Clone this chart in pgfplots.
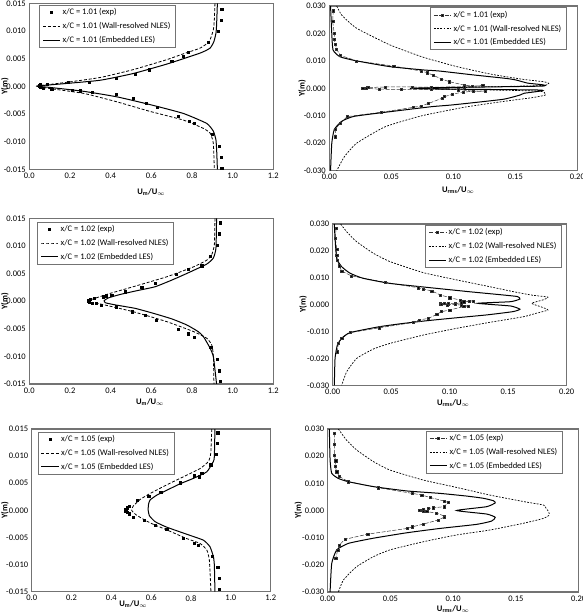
\documentclass[border=0pt]{standalone}
\usepackage{fontspec}
\setmainfont{Carlito}
\usepackage{pgfplots}
\pgfplotsset{compat=1.18}
\pgfplotsset{
  base/.style={
    scale only axis, anchor=south west,
    axis line style={draw=black!55, line width=1.2pt},
    tick style={draw=none},
    scaled ticks=false,
    ticklabel style={font=\fontsize{8.5}{10}\selectfont},
    label style={font=\bfseries\fontsize{8.5}{10}\selectfont},
    legend style={draw=black!55, line width=0.6pt, font=\fontsize{8.5}{10}\selectfont,
      row sep=2pt, inner xsep=3pt, inner ysep=1.5pt, cells={anchor=west}},
    legend cell align=left,
  },
  lp/.style={base, xmin=0, xmax=1.2, ymin=-0.015, ymax=0.015,
    xtick={0,0.2,0.4,0.6,0.8,1.0,1.2},
    ytick={-0.015,-0.010,-0.005,0,0.005,0.010,0.015},
    xticklabel style={/pgf/number format/.cd, fixed, fixed zerofill, precision=1, assume math mode=true},
    yticklabel style={/pgf/number format/.cd, fixed, fixed zerofill, precision=3, assume math mode=true},
    xlabel={U\textsubscript{m}/U\textsubscript{$\infty$}}, ylabel={Y(m)}},
  rp/.style={base, xmin=0, xmax=0.2, ymin=-0.03, ymax=0.03,
    xtick={0,0.05,0.10,0.15,0.20},
    ytick={-0.030,-0.020,-0.010,0,0.010,0.020,0.030},
    xticklabel style={/pgf/number format/.cd, fixed, fixed zerofill, precision=2, assume math mode=true},
    yticklabel style={/pgf/number format/.cd, fixed, fixed zerofill, precision=3, assume math mode=true},
    xlabel={U\textsubscript{rms}/U\textsubscript{$\infty$}}, ylabel={Y(m)}},
  expL/.style={only marks, mark=square*, mark size=1.1pt, black},
  expR/.style={black!80, line width=0.5pt, dash pattern=on 4pt off 1.5pt, mark=square*, mark size=1.1pt, mark options={solid, fill=black}},
  nlesL/.style={black, line width=0.8pt, dash pattern=on 3pt off 1.8pt, smooth, tension=0.3, mark=none},
  nlesR/.style={black, line width=0.7pt, dash pattern=on 1.8pt off 1.4pt, smooth, tension=0.3, mark=none},
  les/.style={black, line width=1pt, smooth, tension=0.3, mark=none},
}
\begin{document}
\begin{tikzpicture}[x=1pt,y=1pt]
\path[use as bounding box] (0,0) rectangle (583,616);

% Panel 1
\begin{axis}[lp, at={(29.3pt,446.7pt)}, width=244pt, height=166pt,
  xlabel style={at={(axis description cs:0.5,-0.137)}, anchor=center},
  ylabel style={at={(axis description cs:-0.1,0.5)}, anchor=center},
  legend style={at={(rel axis cs:0.041,0.99)}, anchor=north west}]
\addplot[expL] coordinates {(0.946,0.0140)(0.943,0.0120)(0.930,0.0100)(0.880,0.0080)(0.782,0.0061)(0.755,0.0055)(0.700,0.0046)(0.589,0.0030)(0.520,0.0022)(0.426,0.0014)(0.295,0.0008)(0.190,0.0007)(0.089,0.0004)(0.055,0.0003)(0.050,0.0001)(0.048,0.0000)(0.052,-0.0001)(0.055,-0.0002)(0.070,-0.0004)(0.110,-0.0005)(0.210,-0.0007)(0.250,-0.0008)(0.310,-0.0010)(0.426,-0.0014)(0.510,-0.0022)(0.574,-0.0030)(0.630,-0.0038)(0.733,-0.0054)(0.787,-0.0063)(0.810,-0.0067)(0.900,-0.0087)(0.934,-0.0108)(0.943,-0.0128)(0.946,-0.0148)};
\addlegendentry{x/C = 1.01 (exp)}
\addplot[nlesL] coordinates {(0.913,0.0150)(0.910,0.0120)(0.905,0.0102)(0.885,0.0081)(0.840,0.0069)(0.760,0.0059)(0.675,0.0048)(0.510,0.0030)(0.350,0.0016)(0.180,0.0007)(0.050,0.0001)(0.036,0.0000)(0.100,-0.0004)(0.270,-0.0013)(0.430,-0.0028)(0.590,-0.0045)(0.757,-0.0061)(0.856,-0.0076)(0.890,-0.0085)(0.905,-0.0103)(0.910,-0.0150)};
\addlegendentry{x/C = 1.01 (Wall-resolved NLES)}
\addplot[les] coordinates {(0.925,0.0150)(0.921,0.0110)(0.918,0.0096)(0.908,0.0081)(0.889,0.0069)(0.840,0.0060)(0.675,0.0040)(0.510,0.0023)(0.350,0.0011)(0.180,0.0005)(0.050,0.0001)(0.040,0.0000)(0.100,-0.0002)(0.266,-0.0009)(0.430,-0.0019)(0.593,-0.0033)(0.757,-0.0049)(0.872,-0.0067)(0.905,-0.0081)(0.918,-0.0097)(0.922,-0.0120)(0.925,-0.0150)};
\addlegendentry{x/C = 1.01 (Embedded LES)}
\end{axis}

% Panel 2
\begin{axis}[rp, at={(329.3pt,445.3pt)}, width=248pt, height=164.7pt,
  xlabel style={at={(axis description cs:0.52,-0.117)}, anchor=center},
  ylabel style={at={(axis description cs:-0.11,0.5)}, anchor=center},
  legend style={at={(rel axis cs:0.957,0.992)}, anchor=north east}]
\addplot[expR] coordinates {(0.0032,0.0283)(0.0027,0.0243)(0.0040,0.0200)(0.0040,0.0179)(0.0048,0.0162)(0.0059,0.0142)(0.0090,0.0120)(0.0220,0.0100)(0.0520,0.0081)(0.0740,0.0063)(0.0790,0.0057)(0.0840,0.0047)(0.0906,0.0034)(0.0970,0.0024)(0.1086,0.0012)(0.1156,0.0008)(0.1237,0.0010)(0.1086,0.0006)(0.0820,0.0004)(0.0670,0.0005)(0.0450,0.0005)(0.0310,0.0003)(0.0270,0.0001)(0.0300,0.0000)(0.0400,-0.0003)(0.0580,-0.0004)(0.0820,-0.0004)(0.1040,-0.0005)(0.1160,-0.0010)(0.1260,-0.0010)(0.1080,-0.0013)(0.0990,-0.0022)(0.0930,-0.0030)(0.0910,-0.0036)(0.0800,-0.0055)(0.0740,-0.0064)(0.0680,-0.0069)(0.0420,-0.0087)(0.0145,-0.0103)(0.0086,-0.0128)(0.0050,-0.0148)(0.0046,-0.0176)};
\addlegendentry{x/C = 1.01 (exp)}
\addplot[nlesR] coordinates {(0.006,0.030)(0.010,0.0267)(0.022,0.0219)(0.049,0.0158)(0.076,0.0113)(0.103,0.0079)(0.130,0.0052)(0.156,0.0033)(0.173,0.0024)(0.177,0.0018)(0.170,0.0010)(0.090,0.0002)(0.070,0.0000)(0.090,-0.0002)(0.168,-0.0010)(0.174,-0.0020)(0.174,-0.0025)(0.165,-0.0033)(0.140,-0.0048)(0.110,-0.0068)(0.0745,-0.0100)(0.045,-0.0140)(0.022,-0.0200)(0.012,-0.0250)(0.006,-0.030)};
\addlegendentry{x/C = 1.01 (Wall-resolved NLES)}
\addplot[les] coordinates {(0.001,0.030)(0.002,0.020)(0.003,0.014)(0.0086,0.0115)(0.022,0.0100)(0.049,0.0079)(0.076,0.0067)(0.089,0.0063)(0.116,0.0049)(0.143,0.0036)(0.151,0.0030)(0.160,0.0019)(0.172,0.0013)(0.170,0.0008)(0.080,0.0002)(0.065,0.0000)(0.080,-0.0002)(0.168,-0.0006)(0.170,-0.0010)(0.157,-0.0018)(0.154,-0.0024)(0.140,-0.0040)(0.100,-0.0060)(0.082,-0.0067)(0.049,-0.0085)(0.020,-0.0102)(0.010,-0.0120)(0.004,-0.0150)(0.002,-0.0200)(0.001,-0.030)};
\addlegendentry{x/C = 1.01 (Embedded LES)}
\end{axis}

% Panel 3
\begin{axis}[lp, at={(29.3pt,232pt)}, width=244pt, height=165.7pt,
  xlabel style={at={(axis description cs:0.495,-0.109)}, anchor=center},
  ylabel style={at={(axis description cs:-0.1,0.5)}, anchor=center},
  legend style={at={(rel axis cs:0.033,0.98)}, anchor=north west}]
\addplot[expL] coordinates {(0.938,0.0142)(0.934,0.0122)(0.925,0.0102)(0.889,0.0082)(0.848,0.0064)(0.782,0.0058)(0.721,0.0049)(0.618,0.0032)(0.553,0.0025)(0.470,0.0017)(0.405,0.0011)(0.377,0.0010)(0.364,0.0008)(0.320,0.0005)(0.300,0.0003)(0.290,0.0001)(0.288,0.0000)(0.295,-0.0001)(0.310,-0.0003)(0.328,-0.0004)(0.352,-0.0007)(0.426,-0.0010)(0.508,-0.0019)(0.570,-0.0026)(0.623,-0.0034)(0.733,-0.0051)(0.782,-0.0059)(0.810,-0.0065)(0.892,-0.0084)(0.926,-0.0105)(0.934,-0.0126)(0.938,-0.0145)};
\addlegendentry{x/C = 1.02 (exp)}
\addplot[nlesL] coordinates {(0.913,0.0150)(0.910,0.0102)(0.897,0.0084)(0.872,0.0074)(0.807,0.0062)(0.675,0.0044)(0.510,0.0026)(0.397,0.0014)(0.330,0.0006)(0.290,0.0001)(0.300,-0.0002)(0.348,-0.0005)(0.510,-0.0019)(0.675,-0.0037)(0.807,-0.0055)(0.872,-0.0067)(0.897,-0.0079)(0.905,-0.0098)(0.908,-0.0150)};
\addlegendentry{x/C = 1.02 (Wall-resolved NLES)}
\addplot[les] coordinates {(0.921,0.0150)(0.918,0.0096)(0.905,0.0078)(0.872,0.0067)(0.774,0.0050)(0.700,0.0038)(0.618,0.0026)(0.530,0.0019)(0.446,0.0012)(0.390,0.0006)(0.368,0.0001)(0.375,-0.0003)(0.426,-0.0007)(0.520,-0.0013)(0.610,-0.0022)(0.700,-0.0032)(0.774,-0.0043)(0.830,-0.0055)(0.856,-0.0064)(0.889,-0.0085)(0.905,-0.0100)(0.915,-0.0130)(0.921,-0.0150)};
\addlegendentry{x/C = 1.02 (Embedded LES)}
\end{axis}

% Panel 4
\begin{axis}[rp, at={(332.7pt,230.7pt)}, width=234pt, height=161.3pt,
  xlabel style={at={(axis description cs:0.515,-0.11)}, anchor=center},
  ylabel style={at={(axis description cs:-0.126,0.5)}, anchor=center},
  legend style={at={(rel axis cs:0.979,0.994)}, anchor=north east}]
\addplot[expR] coordinates {(0.0028,0.0284)(0.0023,0.0247)(0.0034,0.0206)(0.0034,0.0185)(0.0040,0.0166)(0.0054,0.0145)(0.0077,0.0125)(0.0160,0.0107)(0.0447,0.0083)(0.0730,0.0063)(0.0775,0.0058)(0.0846,0.0051)(0.0920,0.0036)(0.1000,0.0026)(0.1090,0.0017)(0.1120,0.0011)(0.1170,0.0014)(0.1200,0.0014)(0.1100,0.0007)(0.1050,0.0004)(0.0990,0.0003)(0.0950,0.0004)(0.0917,0.0003)(0.0930,0.0000)(0.0980,-0.0001)(0.1050,0.0001)(0.1100,-0.0002)(0.1160,-0.0005)(0.1120,-0.0007)(0.1000,-0.0020)(0.0930,-0.0026)(0.0890,-0.0036)(0.0820,-0.0051)(0.0740,-0.0057)(0.0690,-0.0066)(0.0400,-0.0086)(0.0148,-0.0104)(0.0077,-0.0125)(0.0048,-0.0144)(0.0040,-0.0175)};
\addlegendentry{x/C = 1.02 (exp)}
\addplot[nlesR] coordinates {(0.0068,0.030)(0.012,0.0271)(0.0205,0.0234)(0.0348,0.0191)(0.049,0.0160)(0.0775,0.0119)(0.106,0.0092)(0.134,0.0067)(0.157,0.0046)(0.171,0.0035)(0.184,0.0028)(0.180,0.0018)(0.170,0.0005)(0.178,-0.0008)(0.184,-0.0020)(0.174,-0.0032)(0.163,-0.0045)(0.134,-0.0066)(0.106,-0.0088)(0.0775,-0.0113)(0.049,-0.0144)(0.0348,-0.0165)(0.0205,-0.0200)(0.012,-0.0249)(0.0077,-0.030)};
\addlegendentry{x/C = 1.02 (Wall-resolved NLES)}
\addplot[les] coordinates {(0.0014,0.030)(0.002,0.0247)(0.0034,0.0172)(0.0077,0.0141)(0.0148,0.0117)(0.026,0.0098)(0.049,0.0079)(0.0746,0.0067)(0.117,0.0048)(0.1457,0.0036)(0.158,0.0030)(0.160,0.0021)(0.152,0.0011)(0.124,0.0005)(0.152,-0.0005)(0.160,-0.0017)(0.154,-0.0026)(0.132,-0.0038)(0.103,-0.0050)(0.080,-0.0060)(0.060,-0.0070)(0.040,-0.0082)(0.0148,-0.0104)(0.0077,-0.0125)(0.004,-0.0150)(0.002,-0.020)(0.0014,-0.030)};
\addlegendentry{x/C = 1.02 (Embedded LES)}
\end{axis}

% Panel 5
\begin{axis}[lp, at={(31.7pt,24.3pt)}, width=239pt, height=162.7pt,
  xlabel style={at={(axis description cs:0.425,-0.076)}, anchor=center},
  ylabel style={at={(axis description cs:-0.112,0.5)}, anchor=center},
  legend style={at={(rel axis cs:0.025,0.983)}, anchor=north west}]
\addplot[expL] coordinates {(0.934,0.0143)(0.932,0.0124)(0.926,0.0104)(0.899,0.0084)(0.854,0.0068)(0.842,0.0062)(0.815,0.0064)(0.745,0.0051)(0.648,0.0034)(0.587,0.0026)(0.530,0.0018)(0.490,0.0008)(0.478,0.0005)(0.472,0.0002)(0.470,0.0000)(0.472,-0.0002)(0.478,-0.0004)(0.488,-0.0006)(0.510,-0.0012)(0.566,-0.0018)(0.620,-0.0027)(0.678,-0.0035)(0.762,-0.0052)(0.815,-0.0060)(0.837,-0.0064)(0.907,-0.0085)(0.934,-0.0105)(0.940,-0.0125)(0.942,-0.0146)};
\addlegendentry{x/C = 1.05 (exp)}
\addplot[nlesL] coordinates {(0.904,0.015)(0.899,0.0105)(0.887,0.0090)(0.845,0.0077)(0.762,0.0062)(0.678,0.0047)(0.594,0.0031)(0.544,0.0020)(0.510,0.0008)(0.502,0.0000)(0.527,-0.0009)(0.594,-0.0023)(0.678,-0.0036)(0.778,-0.0052)(0.845,-0.0061)(0.879,-0.0073)(0.892,-0.0092)(0.900,-0.015)};
\addlegendentry{x/C = 1.05 (Wall-resolved NLES)}
\addplot[les] coordinates {(0.920,0.015)(0.917,0.0099)(0.912,0.0090)(0.879,0.0071)(0.812,0.0059)(0.745,0.0049)(0.678,0.0037)(0.628,0.0028)(0.594,0.0019)(0.586,0.0010)(0.585,0.0000)(0.591,-0.0010)(0.620,-0.0021)(0.678,-0.0031)(0.778,-0.0044)(0.862,-0.0055)(0.895,-0.0067)(0.912,-0.0085)(0.917,-0.0100)(0.920,-0.015)};
\addlegendentry{x/C = 1.05 (Embedded LES)}
\end{axis}

% Panel 6
\begin{axis}[rp, at={(327.7pt,24pt)}, width=251pt, height=163pt,
  xlabel style={at={(axis description cs:0.5,-0.105)}, anchor=center},
  ylabel style={at={(axis description cs:-0.117,0.5)}, anchor=center},
  legend style={at={(rel axis cs:0.936,0.99)}, anchor=north east}]
\addplot[expR] coordinates {(0.0053,0.0284)(0.0053,0.0243)(0.0053,0.0202)(0.0064,0.0183)(0.0058,0.0164)(0.0072,0.0143)(0.0093,0.0125)(0.0165,0.0106)(0.0404,0.0084)(0.0674,0.0063)(0.0749,0.0057)(0.0815,0.0048)(0.0927,0.0035)(0.0960,0.0029)(0.0927,0.0014)(0.0842,0.0010)(0.0800,0.0007)(0.0760,0.0004)(0.0740,0.0002)(0.0730,0.0000)(0.0760,-0.0002)(0.0790,-0.0004)(0.0868,-0.0010)(0.0927,-0.0020)(0.0927,-0.0025)(0.0880,-0.0035)(0.0762,-0.0050)(0.0674,-0.0060)(0.0634,-0.0066)(0.0319,-0.0087)(0.0138,-0.0106)(0.0093,-0.0127)(0.0080,-0.0145)(0.0064,-0.0176)};
\addlegendentry{x/C = 1.05 (exp)}
\addplot[nlesR] coordinates {(0.0085,0.030)(0.015,0.0259)(0.023,0.0223)(0.0364,0.0180)(0.0496,0.0149)(0.0762,0.0112)(0.1027,0.0085)(0.129,0.0057)(0.156,0.0033)(0.172,0.0020)(0.174,0.0008)(0.176,-0.0004)(0.1765,-0.0017)(0.172,-0.0029)(0.156,-0.0047)(0.129,-0.0072)(0.1027,-0.0090)(0.0762,-0.0115)(0.0496,-0.0145)(0.0364,-0.0170)(0.023,-0.0207)(0.0125,-0.0256)(0.0085,-0.030)};
\addlegendentry{x/C = 1.05 (Wall-resolved NLES)}
\addplot[les] coordinates {(0.0013,0.030)(0.0019,0.0186)(0.0032,0.0137)(0.0085,0.0118)(0.0165,0.0106)(0.0364,0.0088)(0.063,0.0072)(0.0895,0.0063)(0.111,0.0053)(0.124,0.0045)(0.132,0.0036)(0.1335,0.0028)(0.1266,0.0014)(0.1027,0.0000)(0.1266,-0.0013)(0.1335,-0.0025)(0.1306,-0.0039)(0.1187,-0.0051)(0.0895,-0.0066)(0.063,-0.0082)(0.0364,-0.0102)(0.0165,-0.0121)(0.0072,-0.0145)(0.0032,-0.0195)(0.0019,-0.030)};
\addlegendentry{x/C = 1.05 (Embedded LES)}
\end{axis}
\end{tikzpicture}
\end{document}
